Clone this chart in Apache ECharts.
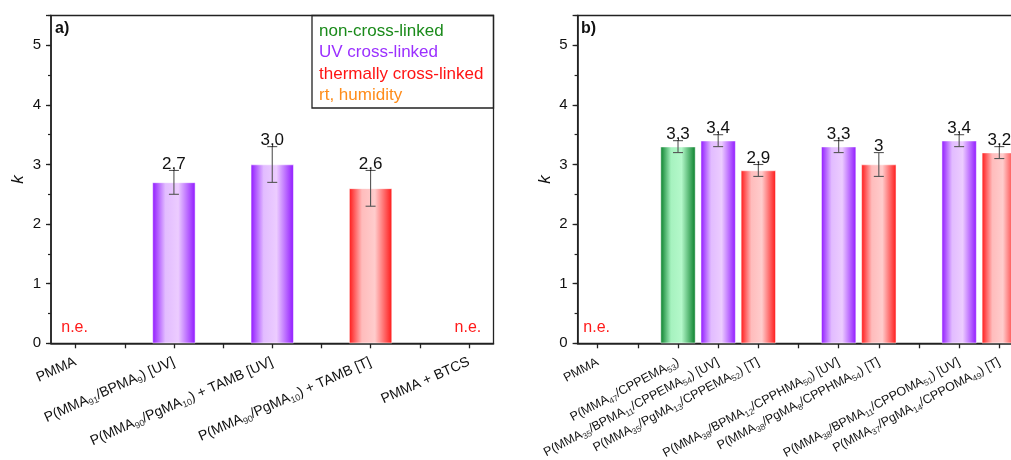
<!DOCTYPE html>
<html><head><meta charset="utf-8">
<script src="https://cdn.jsdelivr.net/npm/echarts@6/dist/echarts.min.js"></script>
<style>html,body{margin:0;padding:0;background:#fff}#c{width:1011px;height:460px}</style>
</head><body><div id="c"></div>
<script>
// ---------- data ----------
const leftCategories = ['PMMA', '', 'P(MMA{s|91}/BPMA{s|9}) [UV]', '', 'P(MMA{s|90}/PgMA{s|10}) + TAMB [UV]', '', 'P(MMA{s|90}/PgMA{s|10}) + TAMB [T]', '', 'PMMA + BTCS'];
const leftValues = [null, null, 2.7, null, 3.0, null, 2.6, null, null];
const leftErrors = [null, null, 0.2, null, 0.3, null, 0.3, null, null];
const leftTypes  = ['ne', '', 'uv', '', 'uv', '', 'th', '', 'ne'];
const leftLabels = ['', '', '2,7', '', '3,0', '', '2,6', '', ''];

const rightCategories = ['PMMA', '', 'P(MMA{s|47}/CPPEMA{s|53})', 'P(MMA{s|35}/BPMA{s|11}/CPPEMA{s|54}) [UV]', 'P(MMA{s|35}/PgMA{s|13}/CPPEMA{s|52}) [T]', '', 'P(MMA{s|38}/BPMA{s|12}/CPPHMA{s|50}) [UV]', 'P(MMA{s|38}/PgMA{s|8}/CPPHMA{s|54}) [T]', '', 'P(MMA{s|38}/BPMA{s|11}/CPPOMA{s|51}) [UV]', 'P(MMA{s|37}/PgMA{s|14}/CPPOMA{s|49}) [T]'];
const rightValues = [null, null, 3.3, 3.4, 2.9, null, 3.3, 3.0, null, 3.4, 3.2];
const rightErrors = [null, null, 0.1, 0.1, 0.1, null, 0.1, 0.2, null, 0.1, 0.1];
const rightTypes  = ['ne', '', 'non', 'uv', 'th', '', 'uv', 'th', '', 'uv', 'th'];
const rightLabels = ['', '', '3,3', '3,4', '2,9', '', '3,3', '3', '', '3,4', '3,2'];

const typeKeys  = ['non', 'uv', 'th', 'rt'];
const typeNames = ['non-cross-linked', 'UV cross-linked', 'thermally cross-linked', 'rt, humidity'];

// ---------- styles ----------
const FONT = 'Liberation Sans, Arial, sans-serif';
const textColors = { non: '#1a8a1a', uv: '#9b30ff', th: '#ff1414', rt: '#ff8c1a' };
function grad(edgeL, mid1, mid2, edgeR) {
  return { type: 'linear', x: 0, y: 0, x2: 1, y2: 0, colorStops: [
    { offset: 0, color: edgeL }, { offset: 0.3, color: mid1 },
    { offset: 0.6, color: mid2 }, { offset: 1, color: edgeR }] };
}
const fills = {
  non: grad('#08802a', '#a6f2bf', '#b4f8ca', '#08802a'),
  uv:  grad('#9018ff', '#e2bcff', '#ecccff', '#9018ff'),
  th:  grad('#ff1818', '#ffbcbc', '#ffcccc', '#ff1818'),
  rt:  grad('#ff8c1a', '#ffd8b0', '#ffd8b0', '#ff8c1a')
};

const panels = [
  { cats: leftCategories, vals: leftValues, errs: leftErrors, types: leftTypes, labels: leftLabels,
    grid: { left: 51, right: 517.5, top: 15.5, bottom: 116.7 }, barWidth: 43, rotate: 24, fs: 14, sub: 9, margin: 18 },
  { cats: rightCategories, vals: rightValues, errs: rightErrors, types: rightTypes, labels: rightLabels,
    grid: { left: 577.6, right: -8.4, top: 15.5, bottom: 116.7 }, barWidth: 35, rotate: 28, fs: 12.5, sub: 8.5, margin: 18 }
];

const grids = [], xAxes = [], yAxes = [], series = [];
panels.forEach((p, pi) => {
  grids.push(Object.assign({ show: true, borderColor: '#222', borderWidth: 1.3, backgroundColor: 'transparent',
    containLabel: false, outerBoundsMode: 'none' }, p.grid));
  xAxes.push({
    type: 'category', gridIndex: pi, data: p.cats, boundaryGap: true,
    axisLine: { lineStyle: { color: '#222', width: 1.6 } },
    axisTick: { show: true, inside: false, alignWithLabel: true, interval: 0, length: 5, lineStyle: { color: '#222', width: 1.3 } },
    axisLabel: { interval: 0, rotate: p.rotate, margin: p.margin, color: '#111', fontSize: p.fs, lineHeight: 17, fontFamily: FONT,
      hideOverlap: false,
      rich: { s: { fontSize: p.sub, lineHeight: 7, verticalAlign: 'bottom', fontFamily: FONT, color: '#333' } } },
    splitLine: { show: false }
  });
  yAxes.push({
    type: 'value', gridIndex: pi, position: 'left', min: 0, max: 5.5, interval: 1,
    name: 'k', nameLocation: 'middle', nameGap: 24,
    nameTextStyle: { fontStyle: 'italic', fontSize: 17, fontFamily: FONT, color: '#111' },
    axisLine: { show: true, lineStyle: { color: '#222', width: 1.6 } },
    axisTick: { show: true, inside: false, length: 5, lineStyle: { color: '#222', width: 1.3 } },
    axisLabel: { margin: 10, fontSize: 15, color: '#111', fontFamily: FONT,
      formatter: v => (Math.abs(v - Math.round(v)) < 1e-6 ? String(Math.round(v)) : '') },
    splitLine: { show: false }
  });
  yAxes.push({
    type: 'value', gridIndex: pi, position: 'left', min: 0, max: 5.5, interval: 0.5,
    axisLine: { show: false },
    axisTick: { show: true, inside: false, length: 3, lineStyle: { color: '#222', width: 1.2 } },
    axisLabel: { show: false }, splitLine: { show: false }
  });
  typeKeys.forEach((t, ti) => {
    series.push({
      type: 'bar', name: typeNames[ti], xAxisIndex: pi, yAxisIndex: pi * 2, stack: 'panel' + pi,
      barWidth: p.barWidth, color: textColors[t],
      itemStyle: { color: fills[t], borderColor: 'rgba(255,255,255,0.9)', borderWidth: 0.6 },
      data: p.vals.map((v, i) => (p.types[i] === t && v != null) ? v : '-'),
      z: 2
    });
  });
  const marks = [];
  p.types.forEach((t, i) => {
    if (t === 'ne') marks.push([i, 0]);
    else if (p.vals[i] != null) marks.push([i, p.vals[i] + p.errs[i]]);
  });
  series.push({
    type: 'custom', xAxisIndex: pi, yAxisIndex: pi * 2, clip: false, z: 5, silent: true,
    encode: { x: 0, y: 1 }, data: marks,
    renderItem: function (params, api) {
      const i = api.value(0);
      if (p.types[i] === 'ne') {
        const pt = api.coord([i, 0]);
        return { type: 'text', style: { text: 'n.e.', x: pt[0] - 1, y: pt[1] - 16, align: 'center', verticalAlign: 'middle',
          fontSize: 16, fontFamily: FONT, fill: '#ff1a1a' } };
      }
      const v = p.vals[i], e = p.errs[i];
      const top = api.coord([i, v + e]);
      const bot = api.coord([i, v - e]);
      const x = top[0], cw = 5;
      const ls = { stroke: '#555', lineWidth: 1.1 };
      return { type: 'group', children: [
        { type: 'line', shape: { x1: x, y1: top[1], x2: x, y2: bot[1] }, style: ls },
        { type: 'line', shape: { x1: x - cw, y1: top[1], x2: x + cw, y2: top[1] }, style: ls },
        { type: 'line', shape: { x1: x - cw, y1: bot[1], x2: x + cw, y2: bot[1] }, style: ls },
        { type: 'text', style: { text: p.labels[i], x: x, y: top[1] + 2, align: 'center', verticalAlign: 'bottom',
          fontSize: 17, fontFamily: FONT, fill: '#111' } }
      ] };
    }
  });
});

const option = {
  animation: false,
  backgroundColor: '#fff',
  grid: grids, xAxis: xAxes, yAxis: yAxes, series: series,
  legend: {
    show: true, left: 312, top: 15.5, orient: 'vertical', padding: [7, 5, 5, 1], itemGap: 4.5,
    itemWidth: 0, itemHeight: 0, icon: 'rect', selectedMode: false,
    textStyle: { fontSize: 17, fontFamily: FONT },
    data: typeNames.map((n, i) => ({ name: n, textStyle: { color: textColors[typeKeys[i]] } }))
  },
  graphic: [
    { type: 'rect', shape: { x: 312, y: 15.5, width: 181.5, height: 92.5 }, style: { fill: 'none', stroke: '#222', lineWidth: 1.3 }, z: 10 },
    { type: 'text', left: 55, top: 21, style: { text: 'a)', fontSize: 16, fontWeight: 'bold', fontFamily: FONT, fill: '#111' }, z: 10 },
    { type: 'text', left: 581, top: 21, style: { text: 'b)', fontSize: 16, fontWeight: 'bold', fontFamily: FONT, fill: '#111' }, z: 10 }
  ]
};
const chart = echarts.init(document.getElementById('c'));
chart.setOption(option);
</script></body></html>
